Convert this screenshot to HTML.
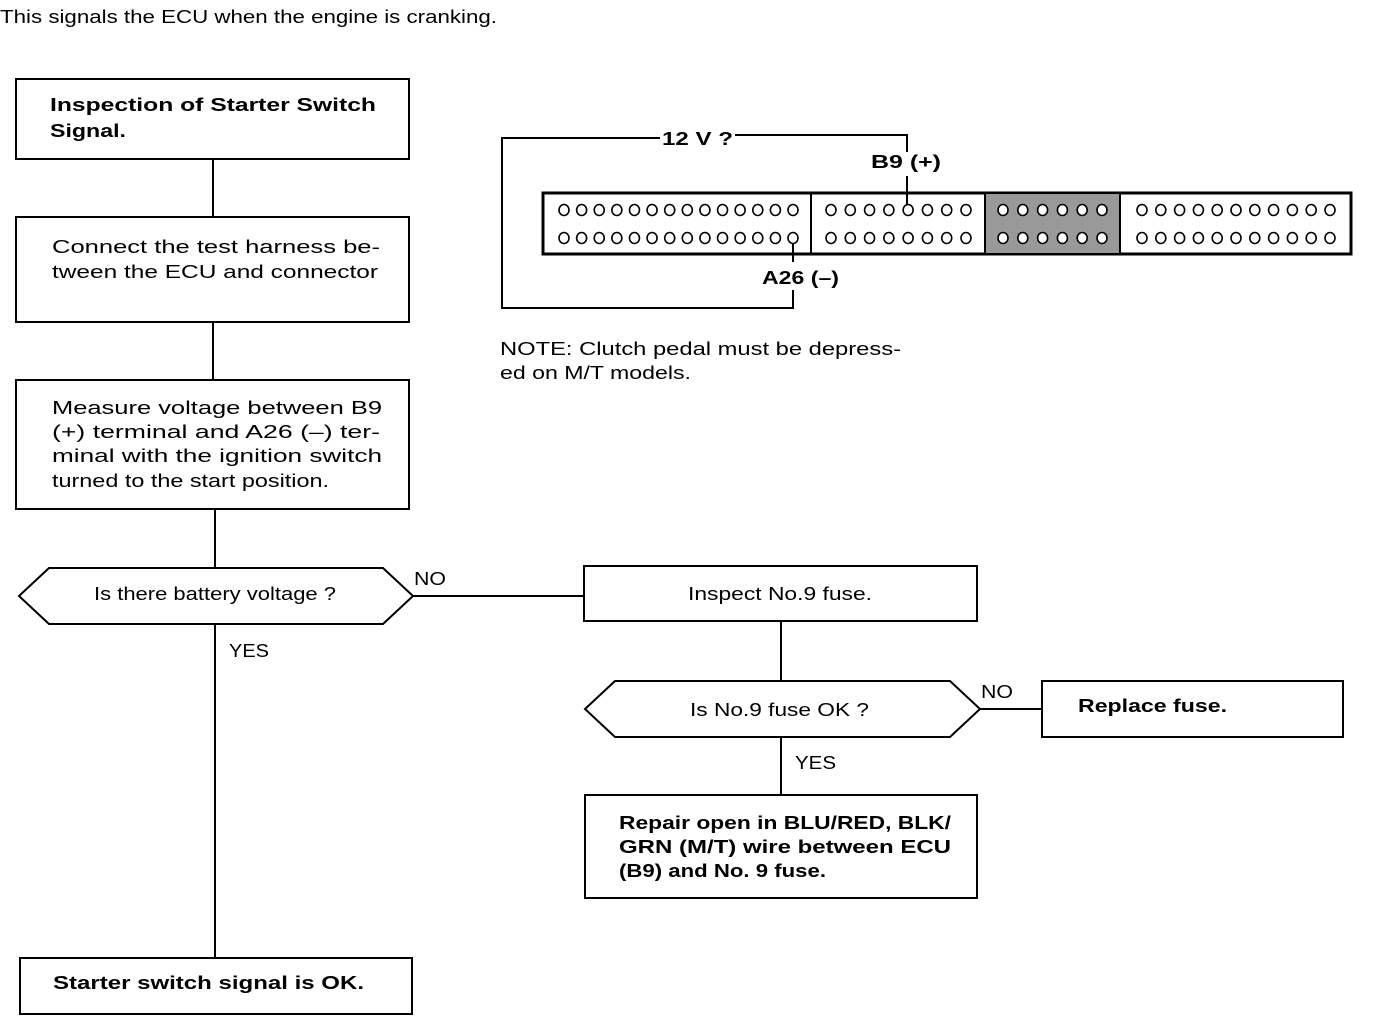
<!DOCTYPE html>
<html><head><meta charset="utf-8"><style>
html,body{margin:0;padding:0;background:#fff;}
svg{display:block;font-family:"Liberation Sans",Arial,sans-serif;}
text{font-size:18px;fill:#000;}
.b{font-weight:bold;}
</style></head><body>
<svg width="1376" height="1016" viewBox="0 0 1376 1016">
<g stroke="#000" stroke-width="2" fill="none">
<rect x="16" y="79" width="393" height="80"/>
<rect x="16" y="217" width="393" height="105"/>
<rect x="16" y="380" width="393" height="129"/>
<polygon points="19,596 49,568 383,568 413,596 383,624 49,624"/>
<rect x="20" y="958" width="392" height="56"/>
<line x1="213" y1="159" x2="213" y2="217"/>
<line x1="213" y1="322" x2="213" y2="380"/>
<line x1="215" y1="509" x2="215" y2="568"/>
<line x1="215" y1="624" x2="215" y2="958"/>
<line x1="413" y1="596" x2="584" y2="596"/>
<rect x="584" y="566" width="393" height="55"/>
<line x1="781" y1="621" x2="781" y2="681"/>
<polygon points="585,709 615,681 950,681 980,709 950,737 615,737"/>
<line x1="980" y1="709" x2="1042" y2="709"/>
<rect x="1042" y="681" width="301" height="56"/>
<line x1="781" y1="737" x2="781" y2="795"/>
<rect x="585" y="795" width="392" height="103"/>
<rect x="543" y="193" width="808" height="61" stroke-width="3"/>
<rect x="985" y="194" width="135" height="59" fill="#999" stroke="none"/>
<line x1="811" y1="193" x2="811" y2="254"/>
<line x1="985" y1="193" x2="985" y2="254"/>
<line x1="1120" y1="193" x2="1120" y2="254"/>
<polyline points="660,138 502,138 502,308 793,308 793,290"/>
<polyline points="735,135 907,135 907,152"/>
<line x1="907" y1="176" x2="907" y2="206"/>
<line x1="793" y1="238" x2="793" y2="262"/>
</g>
<g stroke="#000" stroke-width="1.6" fill="#fff" id="pins"></g>
<g>
<text x="0" y="23" textLength="497" lengthAdjust="spacingAndGlyphs">This signals the ECU when the engine is cranking.</text>
<text class="b" x="50" y="111" textLength="326" lengthAdjust="spacingAndGlyphs">Inspection of Starter Switch</text>
<text class="b" x="50" y="137" textLength="76" lengthAdjust="spacingAndGlyphs">Signal.</text>
<text x="52" y="253" textLength="328" lengthAdjust="spacingAndGlyphs">Connect the test harness be-</text>
<text x="52" y="278" textLength="326" lengthAdjust="spacingAndGlyphs">tween the ECU and connector</text>
<text x="52" y="414" textLength="330" lengthAdjust="spacingAndGlyphs">Measure voltage between B9</text>
<text x="52" y="438" textLength="328" lengthAdjust="spacingAndGlyphs">(+) terminal and A26 (–) ter-</text>
<text x="52" y="462" textLength="330" lengthAdjust="spacingAndGlyphs">minal with the ignition switch</text>
<text x="52" y="487" textLength="277" lengthAdjust="spacingAndGlyphs">turned to the start position.</text>
<text x="94" y="600" textLength="242" lengthAdjust="spacingAndGlyphs">Is there battery voltage ?</text>
<text x="414" y="585" textLength="32" lengthAdjust="spacingAndGlyphs">NO</text>
<text x="229" y="657" textLength="40" lengthAdjust="spacingAndGlyphs">YES</text>
<text class="b" x="53" y="989" textLength="311" lengthAdjust="spacingAndGlyphs">Starter switch signal is OK.</text>
<text x="688" y="600" textLength="184" lengthAdjust="spacingAndGlyphs">Inspect No.9 fuse.</text>
<text x="690" y="716" textLength="179" lengthAdjust="spacingAndGlyphs">Is No.9 fuse OK ?</text>
<text x="981" y="698" textLength="32" lengthAdjust="spacingAndGlyphs">NO</text>
<text class="b" x="1078" y="712" textLength="149" lengthAdjust="spacingAndGlyphs">Replace fuse.</text>
<text x="795" y="769" textLength="41" lengthAdjust="spacingAndGlyphs">YES</text>
<text class="b" x="619" y="829" textLength="332" lengthAdjust="spacingAndGlyphs">Repair open in BLU/RED, BLK/</text>
<text class="b" x="619" y="853" textLength="332" lengthAdjust="spacingAndGlyphs">GRN (M/T) wire between ECU</text>
<text class="b" x="619" y="877" textLength="207" lengthAdjust="spacingAndGlyphs">(B9) and No. 9 fuse.</text>
<text x="500" y="355" textLength="401" lengthAdjust="spacingAndGlyphs">NOTE: Clutch pedal must be depress-</text>
<text x="500" y="379" textLength="191" lengthAdjust="spacingAndGlyphs">ed on M/T models.</text>
<text class="b" x="662" y="145" textLength="71" lengthAdjust="spacingAndGlyphs">12 V ?</text>
<text class="b" x="871" y="168" textLength="70" lengthAdjust="spacingAndGlyphs">B9 (+)</text>
<text class="b" x="762" y="284" textLength="77" lengthAdjust="spacingAndGlyphs">A26 (–)</text>
</g>
</svg>
<script>
var g=document.getElementById('pins');
function row(x0,x1,n,y){for(var i=0;i<n;i++){var c=document.createElementNS('http://www.w3.org/2000/svg','ellipse');c.setAttribute('cx',x0+(x1-x0)*i/(n-1));c.setAttribute('cy',y);c.setAttribute('rx',5);c.setAttribute('ry',5.5);g.appendChild(c);}}
[210,238].forEach(function(y){row(564,793,14,y);row(831,966,8,y);row(1003,1102,6,y);row(1142,1330,11,y);});
</script>
</body></html>
